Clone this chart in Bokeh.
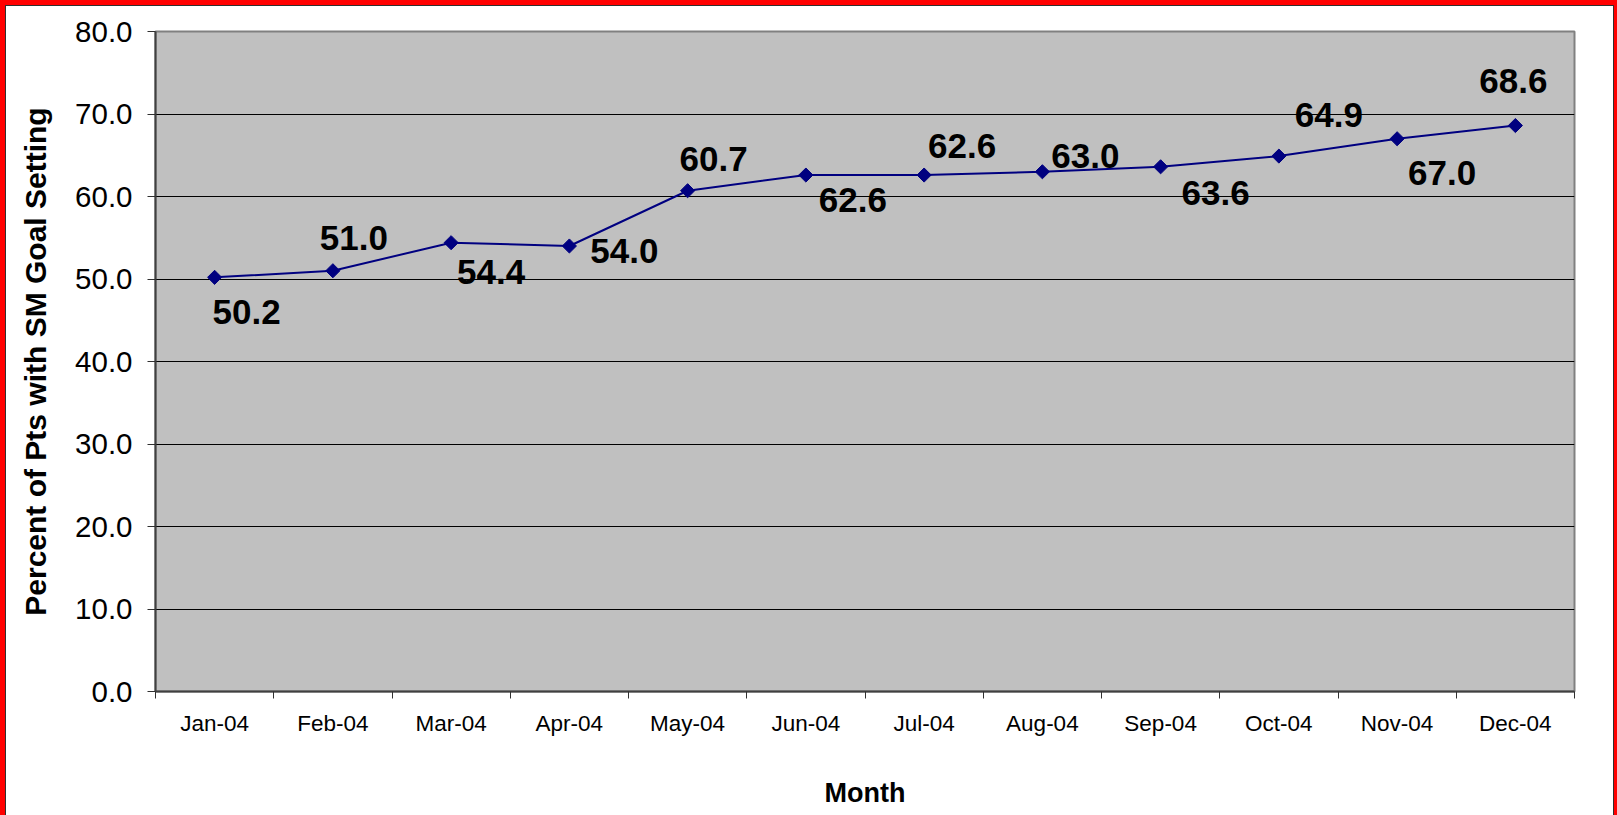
from bokeh.plotting import figure
from bokeh.models import Range1d, FixedTicker, ColumnDataSource, NumeralTickFormatter
from bokeh.core.properties import value
from bokeh.embed import file_html
from bokeh.resources import INLINE

# ---- data ----
months = ["Jan-04", "Feb-04", "Mar-04", "Apr-04", "May-04", "Jun-04",
          "Jul-04", "Aug-04", "Sep-04", "Oct-04", "Nov-04", "Dec-04"]
percent = [50.2, 51.0, 54.4, 54.0, 60.7, 62.6, 62.6, 63.0, 63.6, 64.9, 67.0, 68.6]
y_ticks = [0, 10, 20, 30, 40, 50, 60, 70, 80]

# ---- styling: data-label offsets in screen pixels (label centre relative to point, +down) ----
label_dx = [32, 21, 40, 55, 26, 47, 38, 43, 55, 50, 45, -2]
label_dy = [35, -33, 29, 5, -32, 25, -29, -16, 26, -41, 34, -45]

FONT = "Liberation Sans"

xs = [i + 0.5 for i in range(len(months))]
src = ColumnDataSource(dict(
    x=xs,
    y=percent,
    label=[f"{v:.1f}" for v in percent],
    dx=label_dx,
    dy=label_dy,
))

p = figure(width=1617, height=815, title=None,
           x_range=Range1d(0, len(months)), y_range=Range1d(0, 80),
           output_backend="svg", toolbar_location=None,
           min_border_left=155, min_border_right=43,
           min_border_top=31, min_border_bottom=124)

p.background_fill_color = "#C0C0C0"
p.border_fill_alpha = 0
p.outline_line_color = "#808080"
p.outline_line_width = 2
p.styles = {
    "background-color": "white",
    "box-shadow": "inset 5px 5px 0 0 red, inset -3px 0 0 0 red, "
                  "inset 6px 6px 0 0 #303030, inset -4px 0 0 0 #303030",
}

# grid
p.xgrid.visible = False
p.ygrid.ticker = FixedTicker(ticks=y_ticks)
p.ygrid.grid_line_color = "black"
p.ygrid.grid_line_width = 1

# x axis
p.xaxis.ticker = FixedTicker(ticks=xs, minor_ticks=list(range(len(months) + 1)))
p.xaxis.major_label_overrides = {x: m for x, m in zip(xs, months)}
p.xaxis.major_tick_out = 0
p.xaxis.major_tick_in = 0
p.xaxis.minor_tick_out = 7
p.xaxis.minor_tick_in = 0
p.xaxis.minor_tick_line_color = "#303030"
p.xaxis.major_label_text_font = FONT
p.xaxis.major_label_text_font_size = "22.5px"
p.xaxis.major_label_text_color = "black"
p.xaxis.major_label_standoff = 12
p.xaxis.axis_label = "Month"
p.xaxis.axis_label_text_font = FONT
p.xaxis.axis_label_text_font_size = "27px"
p.xaxis.axis_label_text_font_style = "bold"
p.xaxis.axis_label_text_color = "black"
p.xaxis.axis_label_standoff = 39
p.xaxis.axis_line_color = "#404040"
p.xaxis.axis_line_width = 2

# y axis
p.yaxis.ticker = FixedTicker(ticks=y_ticks, minor_ticks=[])
p.yaxis.formatter = NumeralTickFormatter(format="0.0")
p.yaxis.major_tick_out = 8
p.yaxis.major_tick_in = 0
p.yaxis.major_tick_line_color = "#303030"
p.yaxis.minor_tick_out = 0
p.yaxis.major_label_text_font = FONT
p.yaxis.major_label_text_font_size = "29.5px"
p.yaxis.major_label_text_color = "black"
p.yaxis.major_label_standoff = 15
p.yaxis.axis_label = "Percent of Pts with SM Goal Setting"
p.yaxis.axis_label_text_font = FONT
p.yaxis.axis_label_text_font_size = "30px"
p.yaxis.axis_label_text_font_style = "bold"
p.yaxis.axis_label_text_color = "black"
p.yaxis.axis_label_standoff = 20
p.yaxis.axis_line_color = "#404040"
p.yaxis.axis_line_width = 2

# series
p.line("x", "y", source=src, line_color="#000080", line_width=2)
p.scatter("x", "y", source=src, marker="square", angle=0.785398, size=10,
          fill_color="#000080", line_color="#000080")

p.text("x", "y", text="label", source=src, x_offset="dx", y_offset="dy",
       text_font=value(FONT), text_font_style="bold", text_font_size="35px",
       text_color="black", text_align="center", text_baseline="middle")

open("out.html", "w").write(file_html(p, INLINE))
